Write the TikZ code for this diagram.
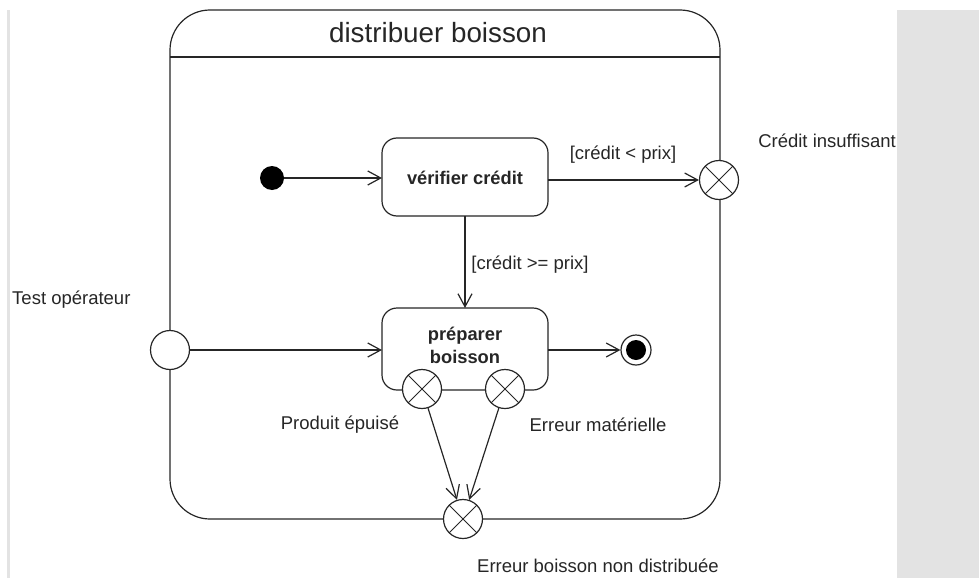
\documentclass[tikz,border=0pt]{standalone}
\usepackage{fontspec}
\setmainfont{Liberation Sans}
\usetikzlibrary{arrows.meta}
\definecolor{txt}{HTML}{262626}
\definecolor{panel}{HTML}{E3E3E3}
\tikzset{
  line/.style={line width=1.2pt, draw=black!85},
  arr/.style={line, -{Straight Barb[length=13pt,width=14pt,line width=1.2pt]}},
  lbl/.style={text=txt, font=\fontsize{18.5}{21}\selectfont, inner sep=0pt},
  statebox/.style={line, rounded corners=15pt, fill=white},
  exitpt/.style={circle, line, fill=white, minimum size=39pt, inner sep=0pt,
    path picture={\draw[line width=1pt, black!85]
      (path picture bounding box.north west) -- (path picture bounding box.south east)
      (path picture bounding box.north east) -- (path picture bounding box.south west);}},
  entrypt/.style={circle, line, fill=white, minimum size=39pt, inner sep=0pt},
  initial/.style={circle, fill=black, minimum size=24pt, inner sep=0pt},
  final/.style={circle, line, fill=white, minimum size=30pt, inner sep=0pt,
    path picture={\fill[black] (path picture bounding box.center) circle (10pt);}},
  boxtext/.style={text=txt, font=\fontsize{18.3}{23}\selectfont\bfseries, align=center}
}
\begin{document}
\begin{tikzpicture}[x=1pt, y=-1pt]
  \useasboundingbox (0,0) rectangle (979,578);
  % page decorations
  \fill[panel] (7,10) rectangle (10,578);
  \fill[panel] (897,10) rectangle (979,578);

  % composite state
  \draw[line, rounded corners=40pt] (170,10) rectangle (720,519);
  \draw[line] (170,57) -- (720,57);
  \node[text=txt, font=\fontsize{27.8}{32}\selectfont] (title) at (438,33) {distribuer boisson};

  % inner states
  \node[initial] (init) at (272,178) {};
  \draw[statebox] (382,138) rectangle (548,216);
  \node[boxtext] (verif) at (465,178) {vérifier crédit};
  \coordinate (verifW) at (382,178);
  \coordinate (verifE) at (548,178);
  \coordinate (verifS) at (465,216);

  \draw[statebox] (382,308) rectangle (548,390);
  \node[boxtext] (prep) at (465,345) {préparer\\boisson};
  \coordinate (prepW) at (382,350);
  \coordinate (prepE) at (548,350);
  \coordinate (prepN) at (465,308);

  \node[final] (fin) at (636,350) {};

  % entry and exit points
  \node[entrypt] (test) at (170,350) {};
  \node[exitpt] (insuf) at (719,180) {};
  \node[exitpt] (epuise) at (422,389) {};
  \node[exitpt] (materiel) at (505,389) {};
  \node[exitpt] (nondist) at (463,519) {};

  % transitions
  \draw[arr] (init) -- (verifW);
  \draw[arr] (verifE |- insuf) -- (insuf);
  \draw[arr] (verifS) -- (prepN);
  \draw[arr] (test) -- (prepW);
  \draw[arr] (prepE) -- (fin);
  \draw[arr] (epuise) -- (nondist);
  \draw[arr] (materiel) -- (nondist);

  % labels
  \node[lbl, anchor=west] (lTest) at (12,300) {Test opérateur};
  \node[lbl] (gLow) at (623,155) {[crédit < prix]};
  \node[lbl] (lInsuf) at (827,141) {Crédit insuffisant};
  \node[lbl] (gHigh) at (530,265) {[crédit >= prix]};
  \node[lbl] (lEpuise) at (340,425) {Produit épuisé};
  \node[lbl] (lMat) at (598,425) {Erreur matérielle};
  \node[lbl] (lNon) at (598,566) {Erreur boisson non distribuée};
\end{tikzpicture}
\end{document}
